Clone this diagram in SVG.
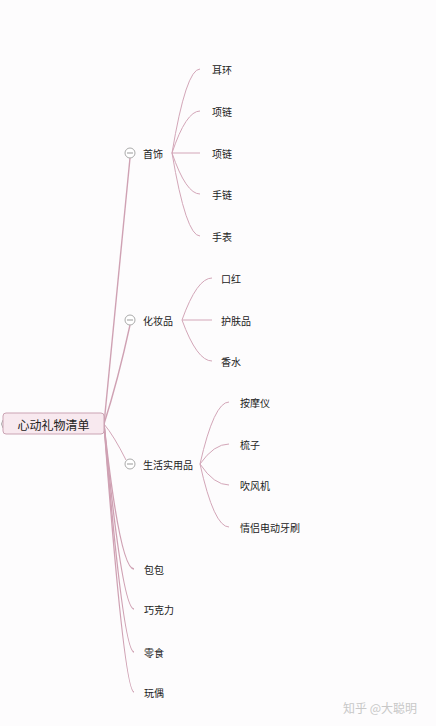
<svg xmlns="http://www.w3.org/2000/svg" width="436" height="726" viewBox="0 0 436 726">
<style>
text{font-family:"Noto Sans CJK SC","Noto Sans",sans-serif;font-size:10px;fill:#222;dominant-baseline:central}
.c{fill:none;stroke:#d3a6b8;stroke-width:1}
.t{fill:none;stroke:#cfa1b3;stroke-width:1.4}
.col circle{fill:#fff;stroke:#aaa;stroke-width:1}
.col line{stroke:#999;stroke-width:1}
</style>
<rect width="436" height="726" fill="#fdfcfd"/>
<g id="connectors">
<path class="t" d="M104,424 Q116,300 130,158"/>
<path class="t" d="M104,424 Q118,380 130,325"/>
<path class="c" d="M104,424 Q114,436 126,460"/>
<path class="t" d="M104,424 Q120,569 134,569"/>
<path class="t" d="M104,424 Q122,609 134,609"/>
<path class="t" d="M104,424 Q123,652 134,652"/>
<path class="t" d="M104,424 Q124,692 134,692"/>
<path class="c" d="M172,153 Q186,69 200,69"/>
<path class="c" d="M172,153 Q186,111 200,111"/>
<path class="c" d="M172,153 L200,153"/>
<path class="c" d="M172,153 Q186,194 200,194"/>
<path class="c" d="M172,153 Q186,236 200,236"/>
<path class="c" d="M182,320 Q197,278 212,278"/>
<path class="c" d="M182,320 L212,320"/>
<path class="c" d="M182,320 Q197,361 212,361"/>
<path class="c" d="M200,464 Q214,402 229,402"/>
<path class="c" d="M200,464 Q214,444 229,444"/>
<path class="c" d="M200,464 Q214,485 229,485"/>
<path class="c" d="M200,464 Q214,527 229,527"/>
<path d="M3,420 Q0,424 3,428" fill="none" stroke="#aaa"/>
</g>
<g id="root">
<rect x="3" y="413" width="101" height="21" rx="3" fill="#f8e9ef" stroke="#caa3b3"/>
<text x="53.5" y="424" text-anchor="middle" style="font-size:12px">心动礼物清单</text>
</g>
<g id="n-shoushi"><g class="col"><circle cx="130" cy="153" r="5"/><line x1="127" y1="153" x2="133" y2="153"/></g><text x="143" y="153">首饰</text></g>
<g id="n-huazhuangpin"><g class="col"><circle cx="130" cy="320" r="5"/><line x1="127" y1="320" x2="133" y2="320"/></g><text x="143" y="320">化妆品</text></g>
<g id="n-shenghuo"><g class="col"><circle cx="130" cy="464" r="5"/><line x1="127" y1="464" x2="133" y2="464"/></g><text x="143" y="464">生活实用品</text></g>
<g id="n-baobao"><text x="144" y="569">包包</text></g>
<g id="n-qiaokeli"><text x="144" y="609">巧克力</text></g>
<g id="n-lingshi"><text x="144" y="652">零食</text></g>
<g id="n-wanou"><text x="144" y="692">玩偶</text></g>
<g id="n-erhuan"><text x="212" y="69">耳环</text></g>
<g id="n-xianglian1"><text x="212" y="111">项链</text></g>
<g id="n-xianglian2"><text x="212" y="153">项链</text></g>
<g id="n-shoulian"><text x="212" y="194">手链</text></g>
<g id="n-shoubiao"><text x="212" y="236">手表</text></g>
<g id="n-kouhong"><text x="221" y="278">口红</text></g>
<g id="n-hufupin"><text x="221" y="320">护肤品</text></g>
<g id="n-xiangshui"><text x="221" y="361">香水</text></g>
<g id="n-anmoyi"><text x="240" y="402">按摩仪</text></g>
<g id="n-shuzi"><text x="240" y="444">梳子</text></g>
<g id="n-chuifengji"><text x="240" y="485">吹风机</text></g>
<g id="n-yashua"><text x="240" y="527">情侣电动牙刷</text></g>
<text x="343" y="707" style="font-size:12px;fill:#c8c8c8">知乎 @大聪明</text>
</svg>
